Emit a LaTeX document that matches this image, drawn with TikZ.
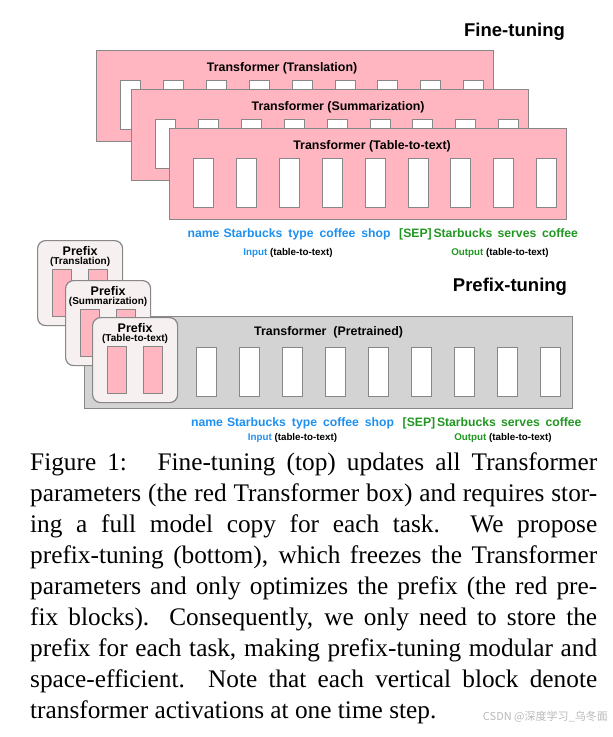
\documentclass[tikz,border=0pt]{standalone}
\usepackage{fontspec}
\setmainfont{Liberation Serif}
\setsansfont{Liberation Sans}
\newfontfamily\cjk{Noto Sans CJK SC}
\usepackage{tikz}

\definecolor{finepink}{RGB}{255,182,193}
\definecolor{pregray}{RGB}{211,211,211}
\definecolor{prefill}{RGB}{246,240,240}
\definecolor{edgegray}{RGB}{135,135,135}
\definecolor{inblue}{RGB}{30,144,240}
\definecolor{outgreen}{RGB}{34,150,34}

\tikzset{
	tfbox/.style={draw=edgegray, line width=1.2pt, fill=finepink, anchor=north west, inner sep=0pt, minimum width=397pt, minimum height=91pt},
	ptbox/.style={tfbox, fill=pregray, minimum width=488pt, minimum height=92pt},
	prebox/.style={draw=edgegray, line width=1.2pt, fill=prefill, rounded corners=8pt, anchor=north west, inner sep=0pt, minimum width=85pt, minimum height=85pt},
	actblk/.style={draw=edgegray, line width=1pt, fill=white, anchor=north west, inner sep=0pt, minimum width=20pt, minimum height=49pt},
	preblk/.style={actblk, fill=finepink, minimum width=19pt, minimum height=47pt},
	boxtitle/.style={anchor=base, inner sep=0pt, font=\sffamily\bfseries\fontsize{12.4}{14}\selectfont},
	bigtitle/.style={anchor=base, inner sep=0pt, font=\sffamily\bfseries\fontsize{18.5}{20}\selectfont},
	pretitle/.style={anchor=base, inner sep=0pt, font=\sffamily\bfseries\fontsize{12.5}{14}\selectfont},
	presub/.style={anchor=base, inner sep=0pt, font=\sffamily\bfseries\fontsize{10}{12}\selectfont},
	word/.style={anchor=base, inner sep=0pt, font=\sffamily\bfseries\fontsize{12.2}{14}\selectfont},
	iolabel/.style={anchor=base, inner sep=0pt, font=\sffamily\bfseries\fontsize{9.8}{11}\selectfont},
	capline/.style={anchor=base west, inner sep=0pt, font=\rmfamily\fontsize{25.3}{31}\selectfont},
}

\begin{document}
\begin{tikzpicture}[x=1pt, y=-1pt]
	\useasboundingbox (0,0) rectangle (613,737);

	% Fine-tuning
	\node[bigtitle] (fttitle) at (514.5,36.5) {Fine-tuning};
	\foreach \k/\x/\y/\tx/\task in {1/96/50/-13/Translation, 2/131/89/8/Summarization, 3/169/128/4/Table-to-text} {
		\node[tfbox] (ft\k) at (\x,\y) {};
		\node[boxtitle] (ft\k-title) at ([xshift=\tx pt, yshift=-21pt]ft\k.north) {Transformer (\task)};
		\foreach \i in {0,...,8}
			\node[actblk] (ft\k-b\i) at ([xshift={24pt+42.9pt*\i}, yshift=-30pt]ft\k.north west) {};
	}

	% Prefix-tuning
	\node[bigtitle] (pttitle) at (510,291.5) {Prefix-tuning};
	\node[ptbox] (pt) at (84,316) {};
	\node[boxtitle] (pt-title) at ([yshift=-19pt]pt.north) {Transformer~ (Pretrained)};
	\foreach \i in {0,...,8}
		\node[actblk] (pt-b\i) at ([xshift={112pt+43pt*\i}, yshift=-31pt]pt.north west) {};
	\foreach \k/\x/\y/\task in {1/37/240/Translation, 2/65/280/Summarization, 3/92/317/Table-to-text} {
		\node[prebox] (pre\k) at (\x,\y) {};
		\node[pretitle] (pre\k-title) at ([yshift=-15.5pt]pre\k.north) {Prefix};
		\node[presub] (pre\k-task) at ([yshift=-24.6pt]pre\k.north) {(\task)};
		\node[preblk] (pre\k-a) at ([xshift=15pt, yshift=-29pt]pre\k.north west) {};
		\node[preblk] (pre\k-b) at ([xshift=51pt, yshift=-29pt]pre\k.north west) {};
	}

	% Tokens
	\foreach \w/\x/\c [count=\n] in {name/203.5/inblue, Starbucks/253/inblue, type/301/inblue, coffee/337.5/inblue, shop/376/inblue, {[SEP]}/415.5/outgreen, Starbucks/463/outgreen, serves/517/outgreen, coffee/560/outgreen} {
		\node[word, text=\c] (wtop\n) at (\x,237.5) {\w};
		\node[word, text=\c] (wbot\n) at (\x+3.5,426.5) {\w};
	}
	\node[iolabel] (intop) at (288,255.5) {\textcolor{inblue}{Input} (table-to-text)};
	\node[iolabel] (outtop) at (500,255.5) {\textcolor{outgreen}{Output} (table-to-text)};
	\node[iolabel] (inbot) at (292.5,440.5) {\textcolor{inblue}{Input} (table-to-text)};
	\node[iolabel] (outbot) at (503,440.5) {\textcolor{outgreen}{Output} (table-to-text)};

	% Caption
	\foreach \ln [count=\n] in {{Figure 1:\hspace{0.5em} Fine-tuning (top) updates all Transformer},
		{parameters (the red Transformer box) and requires stor-},
		{ing a full model copy for each task.  We propose},
		{prefix-tuning (bottom), which freezes the Transformer},
		{parameters and only optimizes the prefix (the red pre-},
		{fix blocks).  Consequently, we only need to store the},
		{prefix for each task, making prefix-tuning modular and},
		{space-efficient.  Note that each vertical block denote}}
		\node[capline] (cap\n) at (30,{470+31.1*(\n-1)}) {\makebox[567pt][s]{\ln}};
	\node[capline] (cap9) at (30,718.8) {transformer activations at one time step.};

	\node[anchor=east, inner sep=0pt, text=gray!55, font=\cjk\fontsize{11}{12}\selectfont] (mark) at (608,717) {CSDN @深度学习\_乌冬面};
\end{tikzpicture}
\end{document}
